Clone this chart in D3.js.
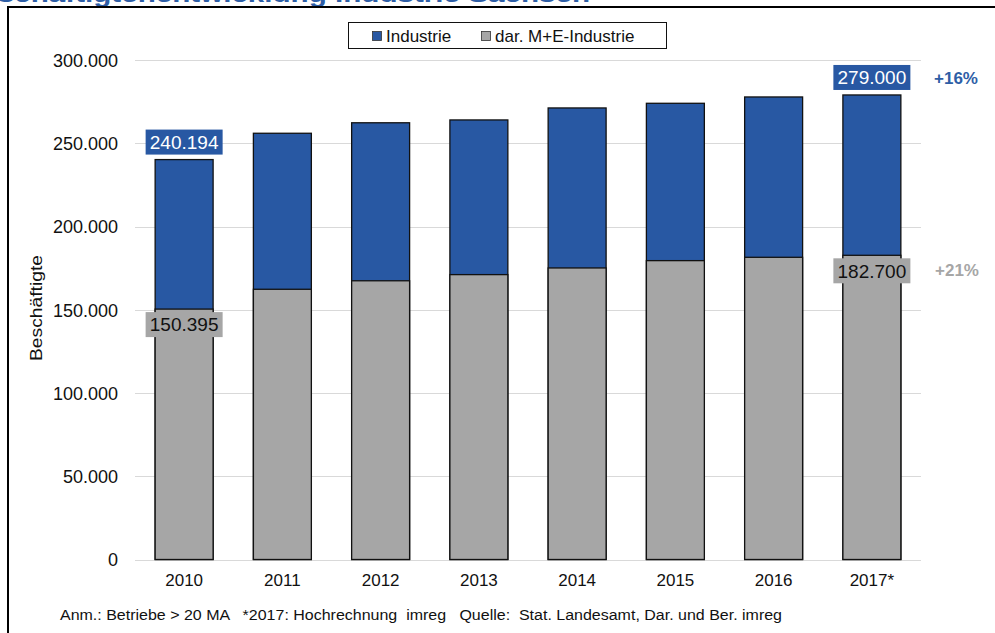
<!DOCTYPE html>
<html>
<head>
<meta charset="utf-8">
<script src="https://cdn.jsdelivr.net/npm/d3@7"></script>
<style>
  body { margin: 0; background: #fff; }
  text { font-family: Arial, "Liberation Sans", sans-serif; }
</style>
</head>
<body>
<svg id="chart" width="995" height="633"></svg>
<script>
// data
const years = ["2010", "2011", "2012", "2013", "2014", "2015", "2016", "2017*"];
const industrie = [240194, 256000, 262300, 264000, 271200, 274000, 277800, 279000];
const meIndustrie = [150395, 162300, 167400, 171100, 175100, 179500, 181500, 182700];
const yTicks = [0, 50000, 100000, 150000, 200000, 250000, 300000];
const seriesNames = ["Industrie", "dar. M+E-Industrie"];
const growth = ["+16%", "+21%"];

const blue = "#2858a3";
const grey = "#a6a6a6";

const svg = d3.select("#chart");

// German number format 240.194
const de = d3.formatLocale({ decimal: ",", thousands: ".", grouping: [3], currency: ["", "€"] });
const fmt = de.format(",d");

// title, mostly cut off above the frame (as in the original)
svg.append("text")
    .attr("x", -40)
    .attr("y", 2)
    .attr("textLength", 630)
    .attr("lengthAdjust", "spacingAndGlyphs")
    .style("font-size", "22px")
    .style("font-weight", "bold")
    .style("fill", "#2e5ea6")
    .text("Beschäftigtenentwicklung Industrie Sachsen");

// frame
svg.append("rect")
    .attr("x", 8).attr("y", 7)
    .attr("width", 1000).attr("height", 640)
    .attr("fill", "#fff")
    .attr("stroke", "#000")
    .attr("stroke-width", 2);

const x = d3.scaleBand()
    .domain(years)
    .range([135, 921])
    .paddingInner(0.41)
    .paddingOuter(0.205);

const y = d3.scaleLinear()
    .domain([0, 300000])
    .range([559.5, 60]);

// gridlines
svg.append("g")
    .selectAll("line")
    .data(yTicks)
    .join("line")
    .attr("x1", 135).attr("x2", 921)
    .attr("y1", d => Math.round(y(d)) + 0.5)
    .attr("y2", d => Math.round(y(d)) + 0.5)
    .attr("stroke", "#d9d9d9")
    .attr("stroke-width", 1.2);

// y axis labels
const yAxis = svg.append("g")
    .attr("transform", "translate(118,0)")
    .call(d3.axisLeft(y).tickValues(yTicks).tickFormat(fmt).tickSize(0).tickPadding(0));
yAxis.select(".domain").remove();
yAxis.selectAll("text")
    .style("font-size", "18px")
    .style("fill", "#111")
    .attr("dy", "0.36em");

// x axis labels
const xAxis = svg.append("g")
    .attr("transform", "translate(0,574)")
    .call(d3.axisBottom(x).tickSize(0).tickPadding(0));
xAxis.select(".domain").remove();
xAxis.selectAll("text")
    .style("font-size", "17px")
    .style("fill", "#111")
    .attr("dy", "0.71em");

// axis title
svg.append("text")
    .attr("transform", "translate(42,308) rotate(-90)")
    .attr("text-anchor", "middle")
    .attr("textLength", 106)
    .attr("lengthAdjust", "spacingAndGlyphs")
    .style("font-size", "16px")
    .style("fill", "#111")
    .text("Beschäftigte");

// bars: total first, M+E in front
svg.append("g")
    .selectAll("rect")
    .data(years)
    .join("rect")
    .attr("x", d => x(d))
    .attr("y", (d, i) => y(industrie[i]))
    .attr("width", x.bandwidth())
    .attr("height", (d, i) => y(0) - y(industrie[i]))
    .attr("fill", blue)
    .attr("stroke", "#111")
    .attr("stroke-width", 1.3);

svg.append("g")
    .selectAll("rect")
    .data(years)
    .join("rect")
    .attr("x", d => x(d))
    .attr("y", (d, i) => y(meIndustrie[i]))
    .attr("width", x.bandwidth())
    .attr("height", (d, i) => y(0) - y(meIndustrie[i]))
    .attr("fill", grey)
    .attr("stroke", "#111")
    .attr("stroke-width", 1.3);

// value labels for first and last year
const labelIdx = [0, years.length - 1];
const lblW = 77, lblH = 25;

labelIdx.forEach(i => {
  const cx = x(years[i]) + x.bandwidth() / 2;
  // Industrie label above bar
  const yTop = y(industrie[i]) - 5 - lblH;
  svg.append("rect")
      .attr("x", cx - lblW / 2).attr("y", yTop)
      .attr("width", lblW).attr("height", lblH)
      .attr("fill", blue);
  svg.append("text")
      .attr("x", cx).attr("y", yTop + lblH / 2)
      .attr("dy", "0.36em")
      .attr("text-anchor", "middle")
      .style("font-size", "19px")
      .style("fill", "#fff")
      .text(fmt(industrie[i]));
  // M+E label below top of grey bar
  const yMe = y(meIndustrie[i]) + 3;
  svg.append("rect")
      .attr("x", cx - lblW / 2).attr("y", yMe)
      .attr("width", lblW).attr("height", lblH)
      .attr("fill", grey);
  svg.append("text")
      .attr("x", cx).attr("y", yMe + lblH / 2)
      .attr("dy", "0.36em")
      .attr("text-anchor", "middle")
      .style("font-size", "19px")
      .style("fill", "#111")
      .text(fmt(meIndustrie[i]));
});

// growth labels at right
svg.append("text")
    .attr("x", 956).attr("y", 78)
    .attr("dy", "0.36em")
    .attr("text-anchor", "middle")
    .style("font-size", "17px")
    .style("font-weight", "bold")
    .style("fill", "#2e5ea6")
    .text(growth[0]);
svg.append("text")
    .attr("x", 957).attr("y", 270)
    .attr("dy", "0.36em")
    .attr("text-anchor", "middle")
    .style("font-size", "17px")
    .style("font-weight", "bold")
    .style("fill", "#a6a6a6")
    .text(growth[1]);

// legend
const legend = svg.append("g");
legend.append("rect")
    .attr("x", 348.5).attr("y", 22.5)
    .attr("width", 318).attr("height", 26)
    .attr("fill", "#fff")
    .attr("stroke", "#111")
    .attr("stroke-width", 1);
const legendItems = [
  { name: seriesNames[0], color: blue, x: 372 },
  { name: seriesNames[1], color: grey, x: 481 }
];
legendItems.forEach(it => {
  legend.append("rect")
      .attr("x", it.x + 0.5).attr("y", 31.5)
      .attr("width", 9).attr("height", 9)
      .attr("fill", it.color)
      .attr("stroke", "#333")
      .attr("stroke-width", 0.8);
  legend.append("text")
      .attr("x", it.x + 14).attr("y", 36)
      .attr("dy", "0.36em")
      .style("font-size", "17px")
      .style("fill", "#111")
      .text(it.name);
});

// footnote
svg.append("text")
    .attr("x", 60).attr("y", 620)
    .attr("textLength", 722)
    .attr("lengthAdjust", "spacingAndGlyphs")
    .style("font-size", "14px")
    .style("fill", "#111")
    .style("white-space", "pre")
    .attr("xml:space", "preserve")
    .text("Anm.: Betriebe > 20 MA   *2017: Hochrechnung  imreg   Quelle:  Stat. Landesamt, Dar. und Ber. imreg");
</script>
</body>
</html>
